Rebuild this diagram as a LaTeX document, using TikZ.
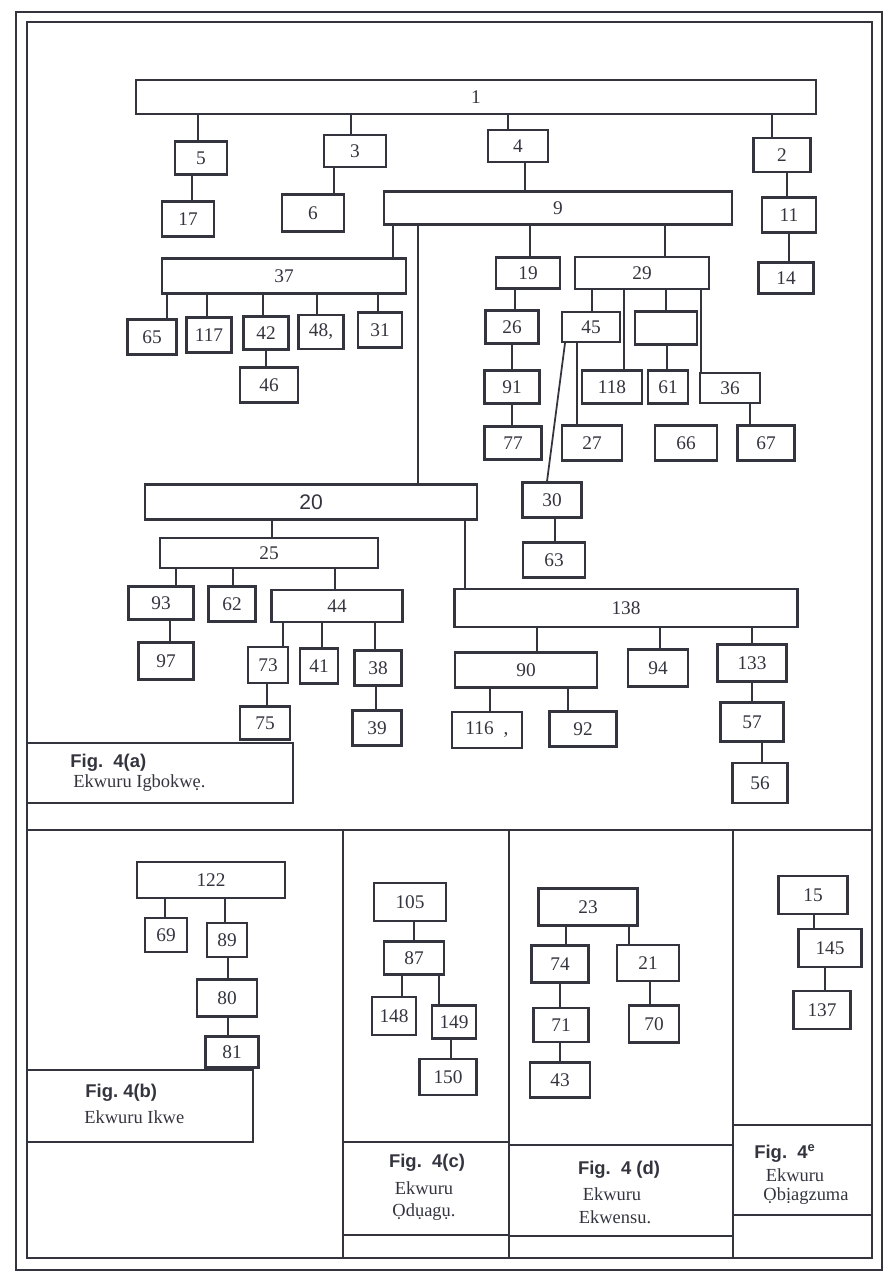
\documentclass[tikz,border=0pt]{standalone}
\usepackage{fontspec}
\setmainfont{Liberation Serif}
\setsansfont{Liberation Sans}
\definecolor{ink}{HTML}{34343F}
\tikzset{
  nbox/.style={rectangle, draw=ink, line width=1.2pt, inner sep=0pt, minimum width=1.1cm,
    minimum height=0.7cm, font=\fontsize{11}{13}\selectfont, text=ink},
  wbox/.style={nbox, minimum height=0.7cm},
  link/.style={line width=1pt, ink},
  frameline/.style={line width=1.3pt, ink},
  figlbl/.style={font=\sffamily\bfseries\fontsize{10.5}{12}\selectfont, text=ink, inner sep=0pt},
  figtxt/.style={font=\fontsize{10.5}{12}\selectfont, text=ink, inner sep=0pt},
}
\begin{document}
\begin{tikzpicture}[x=0.02cm, y=-0.02cm]
  \useasboundingbox (0,0) rectangle (893,1281);
  % page frame and panels
  \draw[frameline] (16,12) rectangle (882,1270);
  \draw[frameline] (27,22) rectangle (872,1258);
  \draw[frameline] (27,830) -- (872,830);
  \foreach \x in {343,509,733}
    \draw[frameline] (\x,830) -- (\x,1258);
  \draw[frameline] (343,1142) -- (509,1142) (343,1235) -- (509,1235);
  \draw[frameline] (509,1145) -- (733,1145) (509,1236) -- (733,1236);
  \draw[frameline] (733,1125) -- (872,1125) (733,1215) -- (872,1215);
  \draw[frameline] (27,743) rectangle (293,803);
  \draw[frameline] (27,1070) rectangle (253,1142);

  % Fig. 4(a)
  \node[wbox, minimum width=13.6cm, minimum height=0.68cm] (n1) at (476,97) {1};
  \node[nbox, minimum width=1.04cm, minimum height=0.66cm] (n5) at (201,158) {5};
  \node[nbox, minimum width=1.24cm, minimum height=0.64cm] (n3) at (355,151) {3};
  \node[nbox, minimum width=1.2cm, minimum height=0.64cm] (n4) at (518,146) {4};
  \node[nbox, minimum width=1.14cm, minimum height=0.68cm] (n2) at (782,155) {2};
  \node[nbox, minimum width=1.04cm] (n17) at (188,219) {17};
  \node[nbox, minimum width=1.24cm, minimum height=0.74cm] (n6) at (313,213) {6};
  \node[wbox, minimum width=6.96cm, minimum height=0.66cm] (n9) at (558,208) {9};
  \node[nbox, minimum width=1.08cm] (n11) at (789,215) {11};
  \node[wbox, minimum width=4.88cm] (n37) at (284,276) {37};
  \node[nbox, minimum width=1.28cm, minimum height=0.62cm] (n19) at (528,273) {19};
  \node[wbox, minimum width=2.68cm, minimum height=0.64cm] (n29) at (642,273) {29};
  \node[nbox, minimum height=0.62cm] (n14) at (786,278) {14};
  \node[nbox, minimum width=0.98cm] (n65) at (152,337) {65};
  \node[nbox, minimum width=0.9cm] (n117) at (209,335) {117};
  \node[nbox, minimum width=0.9cm, minimum height=0.66cm] (n42) at (266,333) {42};
  \node[nbox, minimum width=0.9cm, minimum height=0.68cm] (n48) at (321,332) {48,};
  \node[nbox, minimum width=0.88cm] (n31) at (380,330) {31};
  \node[nbox, minimum width=1.16cm] (n46) at (269,385) {46};
  \node[nbox, minimum width=1.06cm, minimum height=0.66cm] (n26) at (512,327) {26};
  \node[nbox, minimum width=1.16cm, minimum height=0.6cm] (n45) at (591,327) {45};
  \node[nbox, minimum width=1.24cm, minimum height=0.66cm] (n29b) at (666,328) {};
  \node[nbox, minimum height=0.66cm] (n91) at (512,387) {91};
  \node[nbox, minimum width=1.2cm, minimum height=0.66cm] (n118) at (612,387) {118};
  \node[nbox, minimum width=0.8cm, minimum height=0.66cm] (n61) at (668,387) {61};
  \node[nbox, minimum width=1.2cm, minimum height=0.6cm] (n36) at (730,388) {36};
  \node[nbox, minimum width=1.14cm, minimum height=0.66cm] (n77) at (513,443) {77};
  \node[nbox, minimum width=1.2cm] (n27) at (592,443) {27};
  \node[nbox, minimum width=1.24cm] (n66) at (686,443) {66};
  \node[nbox, minimum width=1.14cm] (n67) at (766,443) {67};
  \node[nbox, minimum width=1.18cm] (n30) at (552,500) {30};
  \node[nbox, minimum width=1.24cm] (n63) at (554,560) {63};
  \node[wbox, minimum width=6.64cm, font=\sffamily\fontsize{12}{14}\selectfont] (n20) at (311,502) {20};
  \node[wbox, minimum width=4.36cm, minimum height=0.6cm] (n25) at (269,553) {25};
  \node[nbox, minimum width=1.3cm, minimum height=0.66cm] (n93) at (161,603) {93};
  \node[nbox, minimum width=0.94cm] (n62) at (232,604) {62};
  \node[wbox, minimum width=2.62cm, minimum height=0.64cm] (n44) at (337,606) {44};
  \node[nbox, minimum height=0.74cm] (n97) at (166,661) {97};
  \node[nbox, minimum width=0.8cm, minimum height=0.72cm] (n73) at (268,665) {73};
  \node[nbox, minimum width=0.76cm] (n41) at (319,666) {41};
  \node[nbox, minimum width=0.94cm] (n38) at (378,668) {38};
  \node[nbox, minimum width=1cm, minimum height=0.66cm] (n75) at (265,723) {75};
  \node[nbox, minimum width=0.98cm] (n39) at (377,728) {39};
  \node[wbox, minimum width=6.86cm, minimum height=0.76cm] (n138) at (626,608) {138};
  \node[wbox, minimum width=2.84cm] (n90) at (526,670) {90};
  \node[nbox, minimum width=1.2cm, minimum height=0.74cm] (n94) at (658,668) {94};
  \node[nbox, minimum width=1.38cm, minimum height=0.74cm] (n133) at (752,663) {133};
  \node[nbox, minimum width=1.4cm, minimum height=0.72cm] (n116) at (487,730) {116\hspace{0.2cm},};
  \node[nbox, minimum width=1.34cm] (n92) at (583,729) {92};
  \node[nbox, minimum width=1.26cm, minimum height=0.78cm] (n57) at (752,722) {57};
  \node[nbox, minimum height=0.8cm] (n56) at (760,783) {56};
  \node[figlbl, anchor=west] (figa) at (70,763) {Fig.\ \ 4(a)};
  \node[figtxt, anchor=west] (txta) at (73,783) {Ekwuru Igbokwẹ.};

  % Fig. 4(b)
  \node[wbox, minimum width=2.96cm, minimum height=0.72cm] (n122) at (211,880) {122};
  \node[nbox, minimum width=0.84cm, minimum height=0.68cm] (n69) at (166,935) {69};
  \node[nbox, minimum width=0.8cm, minimum height=0.68cm] (n89) at (227,940) {89};
  \node[nbox, minimum width=1.2cm, minimum height=0.74cm] (n80) at (227,998) {80};
  \node[nbox, minimum width=1.06cm, minimum height=0.62cm] (n81) at (232,1052) {81};
  \node[figlbl, anchor=west] (figb) at (85,1093) {Fig.\ 4(b)};
  \node[figtxt, anchor=west] (txtb) at (84,1117) {Ekwuru Ikwe};

  % Fig. 4(c)
  \node[nbox, minimum width=1.44cm, minimum height=0.76cm] (n105) at (410,902) {105};
  \node[nbox, minimum width=1.2cm, minimum height=0.66cm] (n87) at (414,958) {87};
  \node[nbox, minimum width=0.88cm, minimum height=0.76cm] (n148) at (394,1016) {148};
  \node[nbox, minimum width=0.88cm, minimum height=0.66cm] (n149) at (454,1022) {149};
  \node[nbox, minimum width=1.14cm, minimum height=0.72cm] (n150) at (448,1077) {150};
  \node[figlbl] (figc) at (427,1163) {Fig.\ \ 4(c)};
  \node[figtxt] (txtc1) at (424,1188) {Ekwuru};
  \node[figtxt] (txtc2) at (424,1212) {Ọdụagụ.};

  % Fig. 4(d)
  \node[wbox, minimum width=1.98cm, minimum height=0.74cm] (n23) at (588,907) {23};
  \node[nbox, minimum width=1.14cm, minimum height=0.74cm] (n74) at (560,964) {74};
  \node[nbox, minimum width=1.24cm, minimum height=0.72cm] (n21) at (648,963) {21};
  \node[nbox, minimum height=0.68cm] (n71) at (561,1025) {71};
  \node[nbox, minimum width=1cm, minimum height=0.74cm] (n70) at (654,1024) {70};
  \node[nbox, minimum width=1.2cm] (n43) at (560,1080) {43};
  \node[figlbl] (figd) at (619,1170) {Fig.\ \ 4 (d)};
  \node[figtxt] (txtd1) at (612,1194) {Ekwuru};
  \node[figtxt] (txtd2) at (615,1217) {Ekwensu.};

  % Fig. 4e
  \node[nbox, minimum width=1.38cm, minimum height=0.76cm] (n15) at (813,895) {15};
  \node[nbox, minimum width=1.26cm, minimum height=0.76cm] (n145) at (830,948) {145};
  \node[nbox, minimum width=1.14cm, minimum height=0.76cm] (n137) at (822,1010) {137};
  \node[figlbl] (fige) at (785,1153) {Fig.\ \ 4\textsuperscript{e}};
  \node[figtxt] (txte1) at (795,1175) {Ekwuru};
  \node[figtxt] (txte2) at (806,1196) {Ọbịagzuma};

  % parent/child lines
  \foreach \p/\c/\x in {n1/n5/198, n1/n3/351, n1/n4/508, n1/n2/772, n5/n17/192, n3/n6/334,
      n4/n9/525, n2/n11/787, n11/n14/789, n9/n37/393, n9/n19/530, n9/n29/665, n9/n20/418,
      n37/n65/167, n37/n117/207, n37/n42/263, n37/n48/317, n37/n31/378, n42/n46/266,
      n19/n26/515, n26/n91/512, n91/n77/512, n29/n45/592, n29/n118/624, n29/n29b/666,
      n29/n36/701, n29b/n61/667, n36/n67/750, n45/n27/577, n30/n63/555,
      n20/n25/272, n20/n138/465, n25/n93/176, n25/n62/233, n25/n44/335, n93/n97/170,
      n44/n73/283, n44/n41/322, n44/n38/375, n73/n75/267, n38/n39/376,
      n138/n90/537, n138/n94/660, n138/n133/752, n90/n116/490, n90/n92/568,
      n133/n57/752, n57/n56/762,
      n122/n69/165, n122/n89/225, n89/n80/228, n80/n81/228,
      n105/n87/414, n87/n148/402, n87/n149/439, n149/n150/451,
      n23/n74/566, n23/n21/629, n74/n71/560, n71/n43/560, n21/n70/650,
      n15/n145/814, n145/n137/825}
    \draw[link] (\p.south -| \x,0) -- (\c.north -| \x,0);
  \draw[link] (n45.south -| 565,0) -- (n30.north -| 547,0);
\end{tikzpicture}
\end{document}
